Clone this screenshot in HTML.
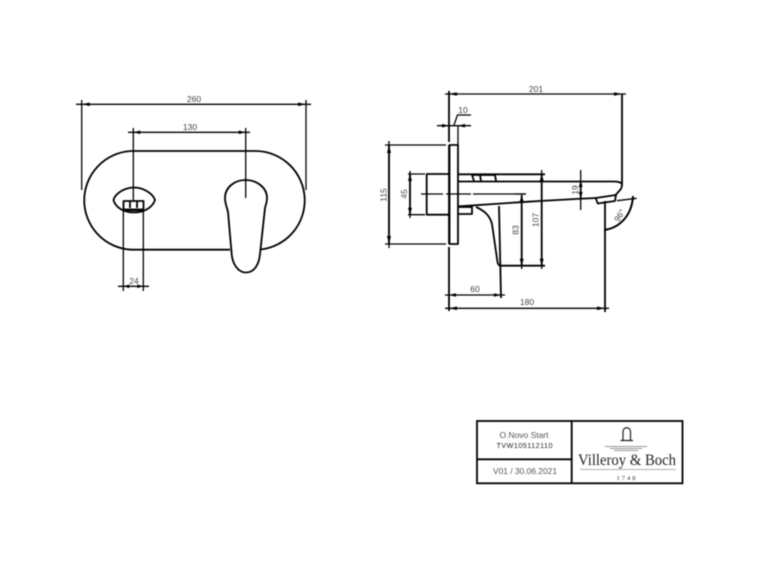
<!DOCTYPE html>
<html><head><meta charset="utf-8"><style>
html,body{margin:0;padding:0;background:#fff;width:760px;height:570px;overflow:hidden}
svg{display:block;filter:blur(.45px)}
text{font-family:"Liberation Sans",sans-serif;font-size:8.5px;fill:#444;text-anchor:middle}
.t{stroke:#000;stroke-width:1.3;fill:none}
.b{stroke:#000;stroke-width:1.8;fill:none;stroke-linejoin:round}
.w{stroke:#000;stroke-width:1.8;fill:#fff;stroke-linejoin:round}
.a{fill:#000;stroke:none}
</style></head><body>
<svg width="760" height="570" viewBox="0 0 760 570" xmlns="http://www.w3.org/2000/svg">
<!-- front view -->
<path class="b" d="M230 249.7H131.5A49.5 49.4 0 0 1 131.5 151H256.5A49.5 49.4 0 0 1 260.5 249.5"/>
<path class="w" d="M245.5 180C235 180 225 187 225 198C225 204 227 207 228 212L231.5 252C232 264 238 272.5 246 272.5C254 272.5 259 265 260 254L265 208C266 204 267 202 267 198C267 187 256 180 245.5 180Z"/>
<path class="b" d="M113.5 200C115 194 124 187.5 134 187.5C144 187.5 153 194 155 200C153 206 146 212.5 134 212.5C122 212.5 115 206 113.5 200Z"/>
<rect x="123.5" y="201" width="20" height="8.5" class="w"/>
<path class="b" d="M130 201V208M137 201V208"/>
<path d="M123.5 210H143.5" stroke="#000" stroke-width="2.6"/>
<path class="t" d="M81.7 100V190M306 100V190M133.3 128V200M245.7 128V198M123.3 211V291M143.3 211V291"/>
<path class="t" d="M76 104.3H311M128 132.3H250M118 286.3H149"/>
<path class="a" d="M81.7 104.3l8-1.8v3.6zM306 104.3l-8-1.8v3.6zM133.3 132.3l7-1.8v3.6zM245.7 132.3l-7-1.8v3.6zM123.3 286.3l6-1.8v3.6zM143.3 286.3l-6-1.8v3.6z"/>
<text x="194" y="102">260</text><text x="190" y="130">130</text><text x="134" y="284">24</text>
<!-- side view -->
<rect x="449.5" y="145" width="8.5" height="99" class="b"/>
<path class="b" d="M449 91V142M449 145V244M449 247V311M449.5 174H426.7V214.7H449.5"/>
<path class="t" d="M421 194H443M446 194H471M473 194H526"/>
<path class="b" d="M458 174.3H545M458 181.5H612C618 181.5 622 182 622 185V94M622 185C622 189 619 191 615.5 195"/>
<path class="b" d="M458 206.5C480 205 530 201 596 198"/>
<path class="b" d="M595.7 198L616 195L615 201L597.7 203.5Z"/>
<path class="b" d="M472 175L495 175L496 181M472 175L474 181M480 175L481 181"/>
<path class="b" d="M458 207H472V214H458M472 207L472 214M476 207C485 211 490 216 492 224L497.5 262C498 265 499 265.7 501 265.7H545"/>
<path class="b" d="M499 206L501 298"/>
<path class="t" d="M385 145H446M385 244H446M408 174H425M408 214.7H425M580.7 170V210M515 194H526M541.7 170V174"/>
<path class="b" d="M605 201V312"/>
<path class="t" d="M445 94H626M437 125.7H471M454 125L457.5 115H471"/>
<path class="t" d="M389 141V248M410 171V218M521.7 195V269M541.7 174V269M445 295H505M445 308.3H609M458 125V145"/>
<path class="b" d="M389 145V244M410 174V214.7M521.7 195V266M541.7 174V266M580.7 181V198"/>
<path d="M604 230C620 228 632 215 633 196" stroke="#000" stroke-width="2" fill="none"/>
<path class="t" d="M617 200.7L636.7 198.3"/>
<path class="a" d="M449 94l8-1.8v3.6zM622 94l-8-1.8v3.6zM449 125.7l-7-1.8v3.6zM458 125.7l7-1.8v3.6zM389 145l-2 8h4zM389 244l-2-8h4zM410 174l-2 7h4zM410 214.7l-2-7h4zM521.7 195l-2 7h4zM521.7 265.7l-2-7h4zM541.7 174l-2 7h4zM541.7 265.7l-2-7h4zM580.7 181l-2 6h4zM580.7 198l-2-6h4zM449 295l7-1.8v3.6zM501 295l-7-1.8v3.6zM449 308.3l8-1.8v3.6zM605 308.3l-8-1.8v3.6z"/>
<text x="536" y="92">201</text><text x="463" y="113">10</text><text x="475" y="292">60</text><text x="527" y="305">180</text>
<text transform="translate(386.5 195) rotate(-90)">115</text>
<text transform="translate(407 194) rotate(-90)">45</text>
<text transform="translate(518.5 230) rotate(-90)">83</text>
<text transform="translate(538.5 220) rotate(-90)">107</text>
<text transform="translate(578 190) rotate(-90)">19</text>
<text transform="translate(622 217) rotate(-58)">96°</text>
<!-- title block -->
<rect x="477" y="421" width="205.5" height="62.3" fill="none" stroke="#000" stroke-width="1.8"/>
<path d="M571.7 421V483.3M477 459.3H571.7" stroke="#000" stroke-width="1.8" fill="none"/>
<text x="524" y="438" style="font-size:8px;fill:#555" textLength="49" lengthAdjust="spacingAndGlyphs">O.Novo Start</text>
<text x="524.5" y="448" style="font-size:7.2px;fill:#222" textLength="56" lengthAdjust="spacing">TVW105112110</text>
<text x="525" y="474" style="font-size:8px;fill:#555" textLength="64" lengthAdjust="spacingAndGlyphs">V01 / 30.06.2021</text>
<path d="M623 440V431.5C623 426.5 630.5 426.5 630.5 431.5V440M620.5 440.5H633" stroke="#222" stroke-width="1.2" fill="none"/>
<path d="M605 446.5H647M610 448.5H642M614 450.5H638" stroke="#777" stroke-width=".8" fill="none"/>
<text x="627" y="465" style="font-family:'Liberation Serif',serif;font-size:15.5px;fill:#222" textLength="98" lengthAdjust="spacingAndGlyphs">Villeroy &amp; Boch</text>
<path d="M580 469.5H676" stroke="#999" stroke-width=".8"/>
<text x="627" y="480" style="font-size:6.5px;letter-spacing:2px;fill:#333;font-family:'Liberation Serif',serif">1748</text>
</svg>
</body></html>
